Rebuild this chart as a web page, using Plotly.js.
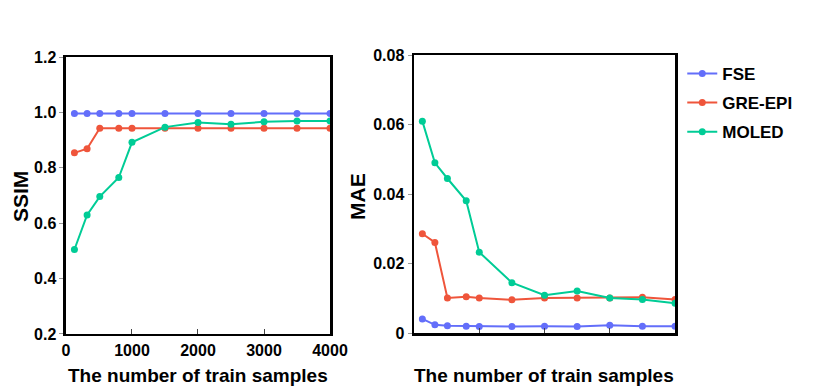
<!DOCTYPE html>
<html>
<head>
<meta charset="utf-8">
<script src="https://cdn.plot.ly/plotly-3.0.1.min.js"></script>
<style>
  html, body { margin: 0; padding: 0; background: #fff; }
  #plot { width: 830px; height: 391px; }
</style>
</head>
<body>
<div id="plot"></div>
<script>
/** ---------------- data ---------------- **/
let samples = [128, 320, 512, 800, 1000, 1500, 2000, 2500, 3000, 3500, 4000];
let seriesNames = ["FSE", "GRE-EPI", "MOLED"];
let seriesColors = ["#636efa", "#ef553b", "#00cc96"];

// SSIM (left panel)
let ssim_fse   = [0.996, 0.996, 0.996, 0.996, 0.996, 0.996, 0.996, 0.996, 0.996, 0.996, 0.996];
let ssim_gre   = [0.854, 0.869, 0.943, 0.943, 0.943, 0.943, 0.943, 0.943, 0.943, 0.943, 0.943];
let ssim_moled = [0.505, 0.630, 0.696, 0.765, 0.892, 0.947, 0.964, 0.957, 0.966, 0.969, 0.969];

// MAE (right panel)
let mae_fse   = [0.0041, 0.0024, 0.0021, 0.0020, 0.0019, 0.0019, 0.0020, 0.0019, 0.0023, 0.0020, 0.0020];
let mae_gre   = [0.0286, 0.0261, 0.0101, 0.0105, 0.0101, 0.0096, 0.0101, 0.0101, 0.0101, 0.0103, 0.0097];
let mae_moled = [0.0610, 0.0490, 0.0445, 0.0381, 0.0233, 0.0145, 0.0109, 0.0121, 0.0101, 0.0097, 0.0086];

let xTicks = [0, 1000, 2000, 3000, 4000];
let ssimTicks = [0.2, 0.4, 0.6, 0.8, 1.0, 1.2];
let ssimTickText = ["0.2", "0.4", "0.6", "0.8", "1.0", "1.2"];
let maeTicks = [0, 0.02, 0.04, 0.06, 0.08];
let maeTickText = ["0", "0.02", "0.04", "0.06", "0.08"];

let xTitle = "The number of train samples";

/** ---------------- traces ---------------- **/
let ssimData = [ssim_fse, ssim_gre, ssim_moled];
let maeData = [mae_fse, mae_gre, mae_moled];
let traces = [];

for (let i = 0; i < 3; i++) {
    traces.push({
        x: samples, y: ssimData[i], xaxis: "x", yaxis: "y",
        type: "scatter", mode: "lines+markers", name: seriesNames[i],
        line: {color: seriesColors[i], width: 2},
        marker: {color: seriesColors[i], size: 7},
        showlegend: true, legendgroup: seriesNames[i], cliponaxis: true
    });
}
for (let i = 0; i < 3; i++) {
    traces.push({
        x: samples, y: maeData[i], xaxis: "x2", yaxis: "y2",
        type: "scatter", mode: "lines+markers", name: seriesNames[i],
        line: {color: seriesColors[i], width: 2},
        marker: {color: seriesColors[i], size: 7},
        showlegend: false, legendgroup: seriesNames[i], cliponaxis: true
    });
}

/** ---------------- layout ---------------- **/
let fontFam = "Liberation Sans, Arial, Helvetica, sans-serif";
let tickFont = {family: fontFam, size: 16, color: "#000", weight: "bold"};

function xAxis(domain, anchor, labels) {
    return {
        domain: domain, anchor: anchor, range: [0, 4000],
        tickvals: xTicks, ticktext: xTicks.map(String),
        showticklabels: labels,
        ticks: "inside", ticklen: 5, tickwidth: 1, tickcolor: "#444",
        showline: true, linecolor: "#000", linewidth: 2.5, mirror: true,
        showgrid: false, zeroline: false, tickfont: tickFont
    };
}
function yAxis(domain, anchor, range, vals, text) {
    return {
        domain: domain, anchor: anchor, range: range,
        tickvals: vals, ticktext: text,
        ticks: "outside", ticklen: 4, tickwidth: 1, tickcolor: "#999",
        showline: true, linecolor: "#000", linewidth: 2.5, mirror: true,
        showgrid: false, zeroline: false, tickfont: tickFont
    };
}

let titleFont = {family: fontFam, size: 19, color: "#000", weight: "bold"};

let layout = {
    width: 830, height: 391,
    margin: {l: 0, r: 0, t: 0, b: 0},
    paper_bgcolor: "#fff", plot_bgcolor: "#fff",
    xaxis: xAxis([0.0795, 0.3976], "y", true),
    yaxis: yAxis([0.146, 0.854], "x", [0.2, 1.2], ssimTicks, ssimTickText),
    xaxis2: xAxis([0.4988, 0.8133], "y2", false),
    yaxis2: yAxis([0.148, 0.859], "x2", [0, 0.08], maeTicks, maeTickText),
    legend: {
        x: 0.822, y: 0.857, xanchor: "left", yanchor: "top",
        font: {family: fontFam, size: 17, color: "#000", weight: "bold"},
        traceorder: "grouped", tracegroupgap: 4, itemwidth: 30,
        bgcolor: "rgba(0,0,0,0)"
    },
    annotations: [
        {text: xTitle, xref: "paper", yref: "paper", x: 0.2385, y: 16 / 391,
         xanchor: "center", yanchor: "middle", showarrow: false, font: titleFont},
        {text: xTitle, xref: "paper", yref: "paper", x: 0.656, y: 16 / 391,
         xanchor: "center", yanchor: "middle", showarrow: false, font: titleFont},
        {text: "SSIM", xref: "paper", yref: "paper", x: 20 / 830, y: (391 - 197) / 391,
         xanchor: "center", yanchor: "middle", showarrow: false, textangle: -90,
         font: {family: fontFam, size: 21, color: "#000", weight: "bold"}},
        {text: "MAE", xref: "paper", yref: "paper", x: 357 / 830, y: (391 - 197) / 391,
         xanchor: "center", yanchor: "middle", showarrow: false, textangle: -90,
         font: {family: fontFam, size: 21, color: "#000", weight: "bold"}}
    ]
};

Plotly.newPlot("plot", traces, layout, {displayModeBar: false, staticPlot: true});
</script>
</body>
</html>
